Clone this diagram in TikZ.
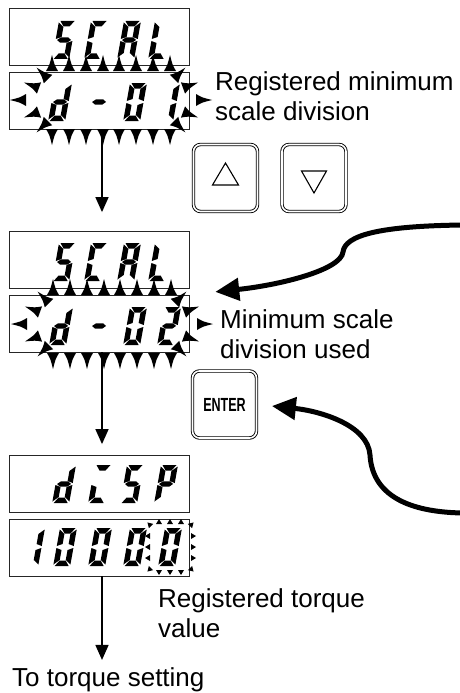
\documentclass[tikz,border=0pt]{standalone}
\usepackage{fontspec}
\setmainfont{Liberation Sans}
\usepackage{graphicx}
\usetikzlibrary{arrows.meta}
\tikzset{
	dispbox/.style={rectangle, draw=black!85, line width=0.8pt, minimum width=180pt, minimum height=57pt},
	keybox/.style={rectangle, draw, double, double distance=1.6pt, line width=0.9pt, rounded corners=7pt, minimum width=64pt, minimum height=67pt, inner sep=0pt},
	flow/.style={-{Triangle[length=15pt,width=13pt]}, line width=1.5pt},
	bigflow/.style={-{Triangle[length=24pt,width=22pt]}, line width=5pt},
	lbl/.style={align=left, inner sep=0pt, font=\fontsize{26}{30}\selectfont},
	spike/.pic={\fill (-6,0) .. controls (-2.5,-6) .. (0,-16) .. controls (2.5,-6) .. (6,0) -- cycle;},
	tick/.pic={\fill (-3,0) -- (0,-5) -- (3,0) -- cycle;}
}
% segments of one digit, top at y=0
\newcommand{\sgA}{(1.5,0) -- (15.5,0) -- (11.5,5.5) -- (5.5,5.5) -- cycle}
\newcommand{\sgB}{(17,1.5) -- (11.5,6) -- (11.5,16) -- (17,18) -- cycle}
\newcommand{\sgC}{(17,20) -- (11.5,22) -- (11.5,32) -- (17,36.5) -- cycle}
\newcommand{\sgD}{(1.5,38) -- (15.5,38) -- (11.5,32.5) -- (5.5,32.5) -- cycle}
\newcommand{\sgE}{(0,20) -- (5.5,22) -- (5.5,32) -- (0,36.5) -- cycle}
\newcommand{\sgF}{(0,1.5) -- (5.5,6) -- (5.5,16) -- (0,18) -- cycle}
\newcommand{\sgG}{(1.5,19) -- (5,16.3) -- (12,16.3) -- (15.5,19) -- (12,21.7) -- (5,21.7) -- cycle}
\newcommand{\segdigit}[3]{%
	\begin{scope}[shift={(#1+7,#2)}, xslant=0.18]
		\foreach \s in {#3} {\fill \csname sg\s\endcsname;}
	\end{scope}}
\newcommand{\blink}[2]{%
	\begin{scope}[shift={(#1,#2)}]
		\foreach \dx in {-59,-42,-25,-8,8,25,42,59} {
			\pic at (\dx,-29) {spike};
			\pic[rotate=180] at (\dx,29) {spike};
		}
		\foreach \bx/\by/\r in {-85/0/90, -72/-12/70, -72/12/110, -63/-21/45, -63/21/135, 85/0/-90, 72/-12/-70, 72/12/-110, 63/-21/-45, 63/21/-135}
			\pic[rotate=\r] at (\bx,\by) {spike};
	\end{scope}}
\newcommand{\tickblink}[2]{%
	\begin{scope}[shift={(#1,#2)}]
		\foreach \d in {-11,0,11} {
			\pic at (\d,-23) {tick};
			\pic[rotate=180] at (\d,23) {tick};
			\pic[rotate=90] at (-20,\d) {tick};
			\pic[rotate=-90] at (21,\d) {tick};
		}
		\foreach \bx/\by/\r in {-19/-21/45, -19/21/135, 20/-21/-45, 20/21/-135}
			\pic[rotate=\r] at (\bx,\by) {tick};
	\end{scope}}

\begin{document}
\begin{tikzpicture}[x=1pt, y=-1pt]
	\useasboundingbox (0,0) rectangle (460,693);

	\node[dispbox] at (99,36.5) (scalA) {};
	\node[dispbox] at (99,100.5) (dvA) {};
	\node[dispbox] at (99,260) (scalB) {};
	\node[dispbox] at (99,323.5) (dvB) {};
	\node[dispbox] at (99,484) (disp) {};
	\node[dispbox] at (99,547.5) (val) {};

	% SCAL / d-01
	\segdigit{52}{21}{A,F,G,C,D} \segdigit{84}{21}{A,F,E,D}
	\segdigit{117}{21}{A,B,C,E,F,G} \segdigit{148}{21}{F,E,D}
	\segdigit{48}{83}{B,C,D,E,G} \segdigit{87}{83}{G}
	\segdigit{123}{83}{A,B,C,D,E,F} \segdigit{156}{83}{B,C}
	\blink{111}{100}
	% SCAL / d-02
	\segdigit{52}{243}{A,F,G,C,D} \segdigit{84}{243}{A,F,E,D}
	\segdigit{117}{243}{A,B,C,E,F,G} \segdigit{148}{243}{F,E,D}
	\segdigit{49}{307}{B,C,D,E,G} \segdigit{87}{307}{G}
	\segdigit{123}{307}{A,B,C,D,E,F} \segdigit{157}{307}{A,B,G,E,D}
	\blink{112}{324}
	% dISP / 10000
	\segdigit{52}{465}{B,C,D,E,G} \segdigit{88}{465}{A,E,D}
	\segdigit{120}{465}{A,F,G,C,D} \segdigit{154}{465}{A,B,F,G,E}
	\segdigit{21}{528}{B,C} \segdigit{53}{528}{A,B,C,D,E,F}
	\segdigit{88}{528}{A,B,C,D,E,F} \segdigit{123}{528}{A,B,C,D,E,F}
	\segdigit{158}{528}{A,B,C,D,E,F}
	\tickblink{170}{547}

	\node[keybox] at (225.5,178) (upkey) {};
	\node[keybox] at (314,178) (downkey) {};
	\node[keybox] at (224.5,404.5) (enter) {\fontsize{19}{20}\selectfont\bfseries\scalebox{0.66}[1]{ENTER}};
	\draw[line width=1.1pt, line join=miter] ([shift={(-13,7)}]upkey.center) -- ([shift={(13,7)}]upkey.center) -- ([shift={(0,-15)}]upkey.center) -- cycle;
	\draw[line width=1.1pt, line join=miter] ([shift={(-12.5,-7)}]downkey.center) -- ([shift={(12.5,-7)}]downkey.center) -- ([shift={(0,15)}]downkey.center) -- cycle;

	\node[lbl, anchor=base west] at (215,120) (regmin) {Registered minimum\\scale division};
	\node[lbl, anchor=base west] at (220,358) (minused) {Minimum scale\\division used};
	\node[lbl, anchor=base west] at (158,637) (regtq) {Registered torque\\value};
	\node[lbl, anchor=base west] at (12,686) (totq) {To torque setting};

	\draw[flow, shorten >=19pt] ([xshift=3pt]dvA.south) -- ([xshift=3pt]scalB.north);
	\draw[flow, shorten >=11pt] ([xshift=3pt]dvB.south) -- ([xshift=3pt]disp.north);
	\draw[flow, shorten >=7pt] ([xshift=3pt]val.south) -- ([xshift=3pt]val.south |- totq.north);

	\coordinate (srcA) at (463,225);
	\coordinate (srcB) at (463,513);
	\draw[bigflow, shorten >=26pt] (srcA) .. controls (380,226) and (345,235) .. (343,252) .. controls (341,270) and (280,285) .. (dvB.north east);
	\draw[bigflow, shorten >=15pt] (srcB) .. controls (400,512) and (372,490) .. (370,455) .. controls (368,425) and (320,411) .. (enter.east);
\end{tikzpicture}
\end{document}
